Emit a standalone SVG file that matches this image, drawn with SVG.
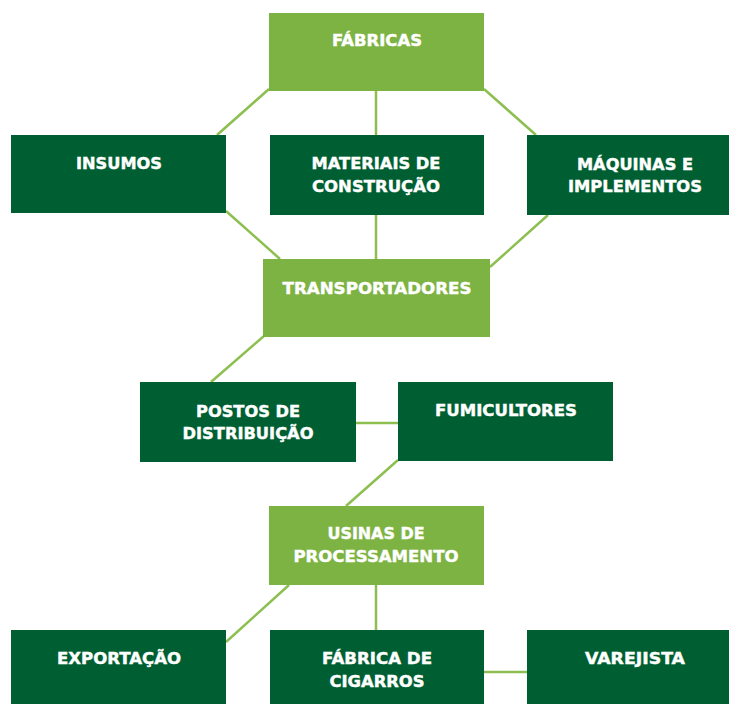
<svg xmlns="http://www.w3.org/2000/svg" width="729" height="704" viewBox="0 0 729 704">
  <style>
    .light { fill: #7db343; }
    .dark { fill: #005f32; }
    .label { fill: #ffffff; stroke: #ffffff; stroke-width: 0.4; font-family: "DejaVu Sans", "Liberation Sans", sans-serif; font-weight: 700; font-size: 15px; text-anchor: middle; }
    .link { stroke: #8cbf50; stroke-width: 2.5; fill: none; }
  </style>
  <rect width="729" height="704" fill="#ffffff"/>

  <!-- connectors -->
  <g id="connectors">
    <line class="link" x1="269" y1="89" x2="217" y2="135"/>
    <line class="link" x1="376" y1="91" x2="376" y2="135"/>
    <line class="link" x1="484" y1="89" x2="536" y2="135"/>
    <line class="link" x1="226" y1="211" x2="280" y2="259"/>
    <line class="link" x1="376" y1="215" x2="376" y2="259"/>
    <line class="link" x1="548" y1="215" x2="490" y2="267"/>
    <line class="link" x1="264" y1="336" x2="211" y2="382"/>
    <line class="link" x1="356" y1="423" x2="398" y2="423"/>
    <line class="link" x1="398" y1="460" x2="346" y2="506"/>
    <line class="link" x1="289" y1="585" x2="226" y2="642"/>
    <line class="link" x1="376" y1="585" x2="376" y2="630"/>
    <line class="link" x1="484" y1="672" x2="527" y2="672"/>
  </g>

  <g id="fabricas">
    <rect class="light" x="269" y="13" width="215" height="78"/>
    <text class="label" x="377" y="46" textLength="90" lengthAdjust="spacingAndGlyphs">FÁBRICAS</text>
  </g>

  <g id="insumos">
    <rect class="dark" x="11" y="135" width="215" height="78"/>
    <text class="label" x="119" y="169" textLength="86" lengthAdjust="spacingAndGlyphs">INSUMOS</text>
  </g>

  <g id="materiais">
    <rect class="dark" x="270" y="135" width="214" height="80"/>
    <text class="label" x="376" y="169" textLength="129" lengthAdjust="spacingAndGlyphs">MATERIAIS DE</text>
    <text class="label" x="376" y="192" textLength="128" lengthAdjust="spacingAndGlyphs">CONSTRUÇÃO</text>
  </g>

  <g id="maquinas">
    <rect class="dark" x="527" y="135" width="202" height="80"/>
    <text class="label" x="635" y="170" textLength="116" lengthAdjust="spacingAndGlyphs">MÁQUINAS E</text>
    <text class="label" x="635" y="192" textLength="134" lengthAdjust="spacingAndGlyphs">IMPLEMENTOS</text>
  </g>

  <g id="transportadores">
    <rect class="light" x="263" y="259" width="227" height="78"/>
    <text class="label" x="377" y="294" textLength="189" lengthAdjust="spacingAndGlyphs">TRANSPORTADORES</text>
  </g>

  <g id="postos">
    <rect class="dark" x="140" y="382" width="216" height="80"/>
    <text class="label" x="248" y="417" textLength="104" lengthAdjust="spacingAndGlyphs">POSTOS DE</text>
    <text class="label" x="248" y="439" textLength="131" lengthAdjust="spacingAndGlyphs">DISTRIBUIÇÃO</text>
  </g>

  <g id="fumicultores">
    <rect class="dark" x="398" y="382" width="215" height="79"/>
    <text class="label" x="506" y="416" textLength="142" lengthAdjust="spacingAndGlyphs">FUMICULTORES</text>
  </g>

  <g id="usinas">
    <rect class="light" x="269" y="506" width="215" height="79"/>
    <text class="label" x="376" y="539" textLength="97" lengthAdjust="spacingAndGlyphs">USINAS DE</text>
    <text class="label" x="376" y="562" textLength="165" lengthAdjust="spacingAndGlyphs">PROCESSAMENTO</text>
  </g>

  <g id="exportacao">
    <rect class="dark" x="11" y="630" width="215" height="74"/>
    <text class="label" x="119" y="664" textLength="124" lengthAdjust="spacingAndGlyphs">EXPORTAÇÃO</text>
  </g>

  <g id="cigarros">
    <rect class="dark" x="270" y="630" width="214" height="74"/>
    <text class="label" x="377" y="664" textLength="110" lengthAdjust="spacingAndGlyphs">FÁBRICA DE</text>
    <text class="label" x="377" y="687" textLength="95" lengthAdjust="spacingAndGlyphs">CIGARROS</text>
  </g>

  <g id="varejista">
    <rect class="dark" x="527" y="630" width="202" height="74"/>
    <text class="label" x="635" y="664" textLength="100" lengthAdjust="spacingAndGlyphs">VAREJISTA</text>
  </g>
</svg>
